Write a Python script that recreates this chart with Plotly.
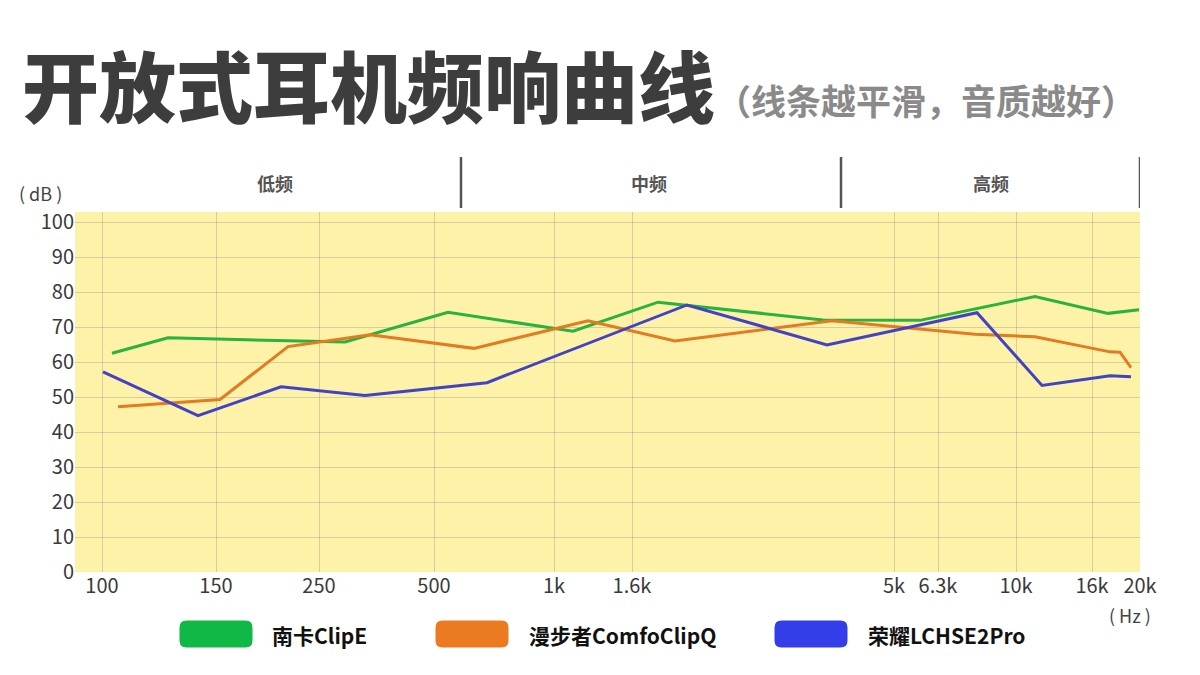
import plotly.graph_objects as go

# x axis is laid out by hand in the source chart, so positions are kept in axis units
tick_pos = [27, 141, 244, 359, 479, 557, 819, 863, 941, 1017, 1065]
tick_labels = ["100", "150", "250", "500", "1k", "1.6k", "5k", "6.3k", "10k", "16k", "20k"]

band_edges = [-1.5, 386, 766, 1065]
band_label_pos = [200, 574, 916]
band_names = ["低频", "中频", "高频"]

nanka_x = [37, 93, 270, 373, 498, 583, 748, 845, 960, 1033, 1064]
nanka_db = [62.5, 66.9, 65.7, 74.2, 68.8, 77.1, 72.0, 71.9, 78.7, 73.9, 74.9]

edifier_x = [43, 145, 213, 295, 399, 513, 600, 757, 900, 960, 1035, 1045, 1056]
edifier_db = [47.2, 49.3, 64.4, 67.8, 63.9, 71.8, 66.0, 71.8, 67.9, 67.2, 62.9, 62.8, 58.4]

honor_x = [28, 123, 206, 290, 412, 612, 752, 902, 967, 1035, 1056]
honor_db = [57.2, 44.7, 52.9, 50.4, 54.1, 76.3, 64.9, 74.1, 53.3, 56.1, 55.8]

series = [
    ("南卡ClipE", nanka_x, nanka_db, "#27b33e", "#10b846"),
    ("漫步者ComfoClipQ", edifier_x, edifier_db, "#e27b22", "#ec7a20"),
    ("荣耀LCHSE2Pro", honor_x, honor_db, "#4143c6", "#343ee8"),
]

W, H = 1200, 675
OFF = 8  # page body margin, the figure is drawn 8px in from the corner
ML, MT = 75 - OFF, 212 - OFF
MR = W - (1140 - OFF)
MB = H - (572 - OFF)
PW, PH = W - ML - MR, H - MT - MB
FONT = "Noto Sans CJK SC"


def px(x):
    return (x - OFF - ML) / PW


def py(y):
    return (H - MB - (y - OFF)) / PH


def label(x, y, text, size, color, weight="normal", xanchor="center", xref="paper"):
    return dict(x=x if xref == "x" else px(x), y=py(y), xref=xref, yref="paper", text=text,
                showarrow=False, xanchor=xanchor, yanchor="middle",
                font=dict(family=FONT, size=size, color=color, weight=weight))


fig = go.Figure()
for name, xs, ys, line_color, _ in series:
    fig.add_trace(go.Scatter(x=xs, y=ys, mode="lines", name=name,
                             line=dict(color=line_color, width=3)))

shapes = []
annotations = []

# band header
for e in band_edges:
    shapes.append(dict(type="line", xref="x", yref="paper", x0=e, x1=e,
                       y0=py(208), y1=py(157), line=dict(color="#555555", width=2.5)))
for pos, name in zip(band_label_pos, band_names):
    annotations.append(label(pos, 183, name, 18, "#555555", "bold", xref="x"))

# legend boxes drawn as rounded rectangles
lw, lh, r = 73, 27, 7
box = (f"M {-lw/2 + r},{-lh/2} H {lw/2 - r} Q {lw/2},{-lh/2} {lw/2},{-lh/2 + r} "
       f"V {lh/2 - r} Q {lw/2},{lh/2} {lw/2 - r},{lh/2} H {-lw/2 + r} "
       f"Q {-lw/2},{lh/2} {-lw/2},{lh/2 - r} V {-lh/2 + r} Q {-lw/2},{-lh/2} {-lw/2 + r},{-lh/2} Z")
legend_box_x = [216, 472, 811]
legend_text_x = [270, 527, 866]
for (name, _, _, _, box_color), bx, tx in zip(series, legend_box_x, legend_text_x):
    shapes.append(dict(type="path", xref="paper", yref="paper", xsizemode="pixel",
                       ysizemode="pixel", xanchor=px(bx), yanchor=py(634), path=box,
                       fillcolor=box_color, line=dict(width=0)))
    annotations.append(label(tx, 635, name, 21, "#111111", "bold", xanchor="left"))

annotations += [
    label(20, 84, "开放式耳机频响曲线", 77, "#3d3d3d", 900, xanchor="left"),
    label(714, 99, "（线条越平滑，音质越好）", 35, "#8a8a8a", "bold", xanchor="left"),
    label(40, 193, "( dB )", 18, "#444444"),
    label(1130, 615, "( Hz )", 18, "#444444"),
]

fig.update_layout(
    width=W, height=H,
    margin=dict(l=ML, r=MR, t=MT, b=MB),
    paper_bgcolor="white",
    plot_bgcolor="#fdf2a7",
    showlegend=False,
    shapes=shapes,
    annotations=annotations,
    font=dict(family=FONT, color="#333333"),
    xaxis=dict(range=[0, 1065], tickvals=tick_pos, ticktext=tick_labels,
               showgrid=True, gridcolor="rgba(140,140,140,0.35)", gridwidth=1,
               zeroline=False, showline=False, ticks="",
               tickfont=dict(family=FONT, size=20, color="#3a3a3a")),
    yaxis=dict(range=[0, 102.86], tickvals=list(range(0, 101, 10)),
               showgrid=True, gridcolor="rgba(140,140,140,0.35)", gridwidth=1,
               zeroline=False, showline=False, ticks="",
               tickfont=dict(family=FONT, size=20, color="#3a3a3a")),
)

fig.write_html("out.html")
